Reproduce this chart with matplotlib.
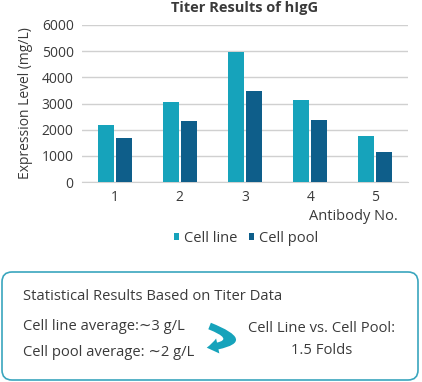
import matplotlib
matplotlib.use("Agg")
import matplotlib.pyplot as plt
from matplotlib.patches import FancyBboxPatch, FancyArrowPatch
import numpy as np

antibodies = ["1", "2", "3", "4", "5"]
cell_line = [2170, 3070, 4970, 3140, 1760]
cell_pool = [1700, 2320, 3470, 2380, 1150]
yticks = [0, 1000, 2000, 3000, 4000, 5000, 6000]

C_LINE = "#16a3bb"
C_POOL = "#0e5e8a"
TXT = "#3a3a3a"
FONT = ["Open Sans", "DejaVu Sans"]
plt.rcParams["font.family"] = FONT

W, H = 422, 382
fig = plt.figure(figsize=(W / 100, H / 100), dpi=100)

# main chart axes
ax = fig.add_axes([82 / W, 1 - 182 / H, 326 / W, 157 / H])
x = np.arange(1, len(antibodies) + 1)
bw = 0.245
off = 0.138
ax.bar(x - off, cell_line, bw, color=C_LINE, label="Cell line", zorder=3)
ax.bar(x + off, cell_pool, bw, color=C_POOL, label="Cell pool", zorder=3)
ax.set_xlim(0.5, 5.5)
ax.set_ylim(0, 6000)
ax.set_yticks(yticks)
ax.set_xticks(x)
ax.set_xticklabels(antibodies)
ax.tick_params(axis="both", length=0, labelsize=10, colors=TXT, pad=6)
ax.yaxis.grid(True, color="#d0d0d0", linewidth=1, zorder=0)
for s in ["top", "right", "left"]:
    ax.spines[s].set_visible(False)
ax.spines["bottom"].set_color("#d0d0d0")
ax.set_ylabel("Expression Level (mg/L)", fontsize=10, color=TXT, labelpad=6)

# overlay axes in pixel units
ov = fig.add_axes([0, 0, 1, 1])
ov.set_xlim(0, W)
ov.set_ylim(H, 0)
ov.axis("off")

ov.text(245, 8, "Titer Results of hIgG", ha="center", va="center", fontsize=10.5,
        fontweight="bold", color=TXT)
ov.text(398, 216, "Antibody No.", ha="right", va="center", fontsize=10.5, color=TXT)

handles, labels = ax.get_legend_handles_labels()
leg = fig.legend(handles, labels, loc="center", bbox_to_anchor=(246 / W, 1 - 238 / H),
                 ncol=2, frameon=False, fontsize=10.5, handlelength=0.35, handleheight=0.35,
                 handletextpad=0.35, columnspacing=0.8, labelcolor=TXT)

box = FancyBboxPatch((2, 272), 416, 108, boxstyle="round,pad=0,rounding_size=10",
                     facecolor="white", edgecolor="#3aa6be", linewidth=1.2)
ov.add_patch(box)

FS = 10.6
ov.text(23, 296, "Statistical Results Based on Titer Data", ha="left", va="center",
        fontsize=FS, color=TXT)
ov.text(23, 326, "Cell line average:\u223c3 g/L", ha="left", va="center", fontsize=FS, color=TXT)
ov.text(23, 353, "Cell pool average: \u223c2 g/L", ha="left", va="center", fontsize=FS, color=TXT)
ov.text(322, 329, "Cell Line vs. Cell Pool:", ha="center", va="center", fontsize=FS, color=TXT)
ov.text(322, 350, "1.5 Folds", ha="center", va="center", fontsize=FS, color=TXT)

arr = FancyArrowPatch((207, 325), (204, 348), connectionstyle="arc3,rad=-2.1",
                      arrowstyle="simple,head_width=11,head_length=8,tail_width=5",
                      color=C_LINE, linewidth=0)
ov.add_patch(arr)

fig.savefig("out.png", dpi=100)
